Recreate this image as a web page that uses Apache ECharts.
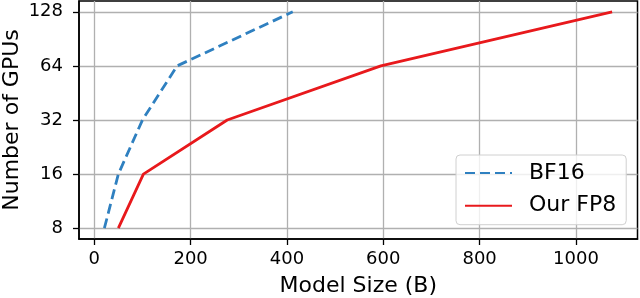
<!DOCTYPE html>
<html>
<head>
<meta charset="utf-8">
<script src="https://cdn.jsdelivr.net/npm/echarts@6/dist/echarts.min.js"></script>
<style>
html,body{margin:0;padding:0;background:#fff;}
#chart{width:640px;height:298px;}
</style>
</head>
<body>
<div id="chart"></div>
<script>
var gpuCounts = [8, 16, 32, 64, 128];
var bf16Sizes = [21, 50, 100, 172, 412];
var fp8Sizes = [50, 102, 276, 595, 1075];
var xTicks = [0, 200, 400, 600, 800, 1000];
var yTicks = [8, 16, 32, 64, 128];
var seriesNames = ['BF16', 'Our FP8'];

function pairs(xs, ys) { return xs.map(function (x, i) { return [x, ys[i]]; }); }

var FONT = 'DejaVu Sans';
var chart = echarts.init(document.getElementById('chart'), null, {renderer: 'canvas'});
chart.setOption({
  animation: false,
  backgroundColor: '#fff',
  grid: {left: 79, right: 2.5, top: 1, bottom: 59, containLabel: false, outerBoundsMode: 'none',
         show: true, borderColor: '#000', borderWidth: 1.5, backgroundColor: 'transparent'},
  xAxis: {
    type: 'value', min: -31.7, max: 1127.7,
    name: 'Model Size (B)', nameLocation: 'middle', nameGap: 36, nameMoveOverlap: false,
    nameTextStyle: {fontFamily: FONT, fontSize: 22, color: '#000'},
    axisLine: {show: true, onZero: false, lineStyle: {color: '#000', width: 1.5}},
    axisTick: {show: true, inside: false, length: 6, customValues: xTicks, lineStyle: {color: '#000', width: 1.3}},
    axisLabel: {customValues: xTicks, fontFamily: FONT, fontSize: 18, color: '#000', margin: 11,
                formatter: function (v) { return String(v); }},
    splitLine: {show: true, lineStyle: {color: '#b0b0b0', width: 1.3}}
  },
  yAxis: {
    type: 'log', logBase: 2, min: 6.964, max: 147.03,
    name: 'Number of GPUs', nameLocation: 'middle', nameGap: 56, nameMoveOverlap: false,
    nameTextStyle: {fontFamily: FONT, fontSize: 22, color: '#000'},
    axisLine: {show: true, onZero: false, lineStyle: {color: '#000', width: 1.5}},
    axisTick: {show: true, inside: false, length: 6, customValues: yTicks, lineStyle: {color: '#000', width: 1.3}},
    axisLabel: {customValues: yTicks, fontFamily: FONT, fontSize: 18, color: '#000', margin: 16,
                formatter: function (v) { return String(Math.round(v)); }},
    splitLine: {show: true, lineStyle: {color: '#b0b0b0', width: 1.3}},
    minorSplitLine: {show: false}
  },
  legend: {
    orient: 'vertical', left: 456, top: 155,
    padding: [7, 10, 8, 8], itemGap: 10.7, itemWidth: 47, itemHeight: 22,
    backgroundColor: 'rgba(255,255,255,0.8)', borderColor: '#d0d0d0', borderWidth: 1, borderRadius: 4,
    itemStyle: {opacity: 0},
    textStyle: {fontFamily: FONT, fontSize: 22, color: '#000', padding: [0, 0, 0, 12]},
    data: seriesNames
  },
  series: [
    {name: seriesNames[0], type: 'line', data: pairs(bf16Sizes, gpuCounts), showSymbol: false, symbol: 'none',
     lineStyle: {color: '#2f80c0', width: 2.8, type: [10, 5]}, itemStyle: {color: '#2f80c0'}},
    {name: seriesNames[1], type: 'line', data: pairs(fp8Sizes, gpuCounts), showSymbol: false, symbol: 'none',
     lineStyle: {color: '#e8191c', width: 2.8}, itemStyle: {color: '#e8191c'}}
  ]
});
</script>
</body>
</html>
